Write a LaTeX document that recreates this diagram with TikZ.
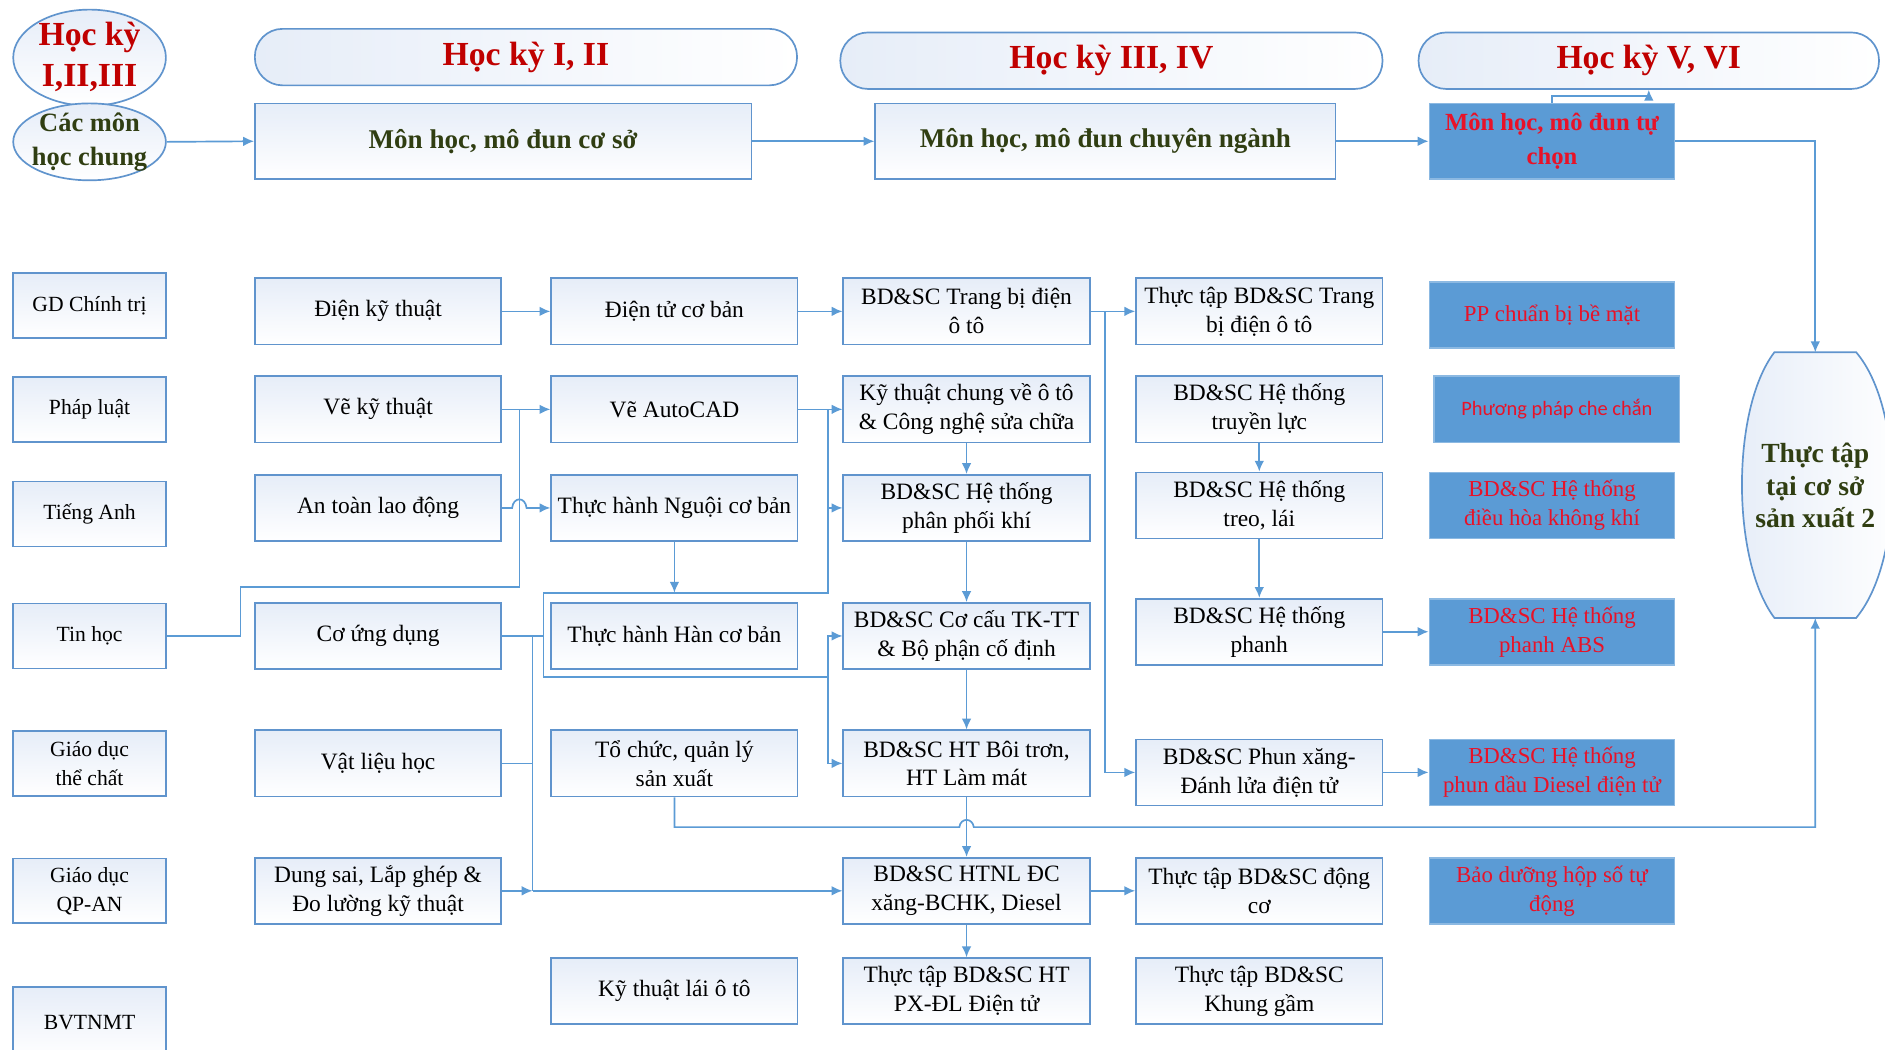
\documentclass[tikz,border=0pt]{standalone}
\usepackage{fontspec}
\setmainfont{Liberation Serif}
\newfontfamily\calibfont{Carlito}
\usetikzlibrary{shapes.geometric,arrows.meta}
\definecolor{lnblue}{RGB}{91,155,213}
\definecolor{bdblue}{RGB}{96,148,205}
\definecolor{boxtop}{RGB}{230,237,248}
\definecolor{fillblue}{RGB}{91,155,213}
\definecolor{hdred}{RGB}{192,0,0}
\definecolor{txred}{RGB}{232,18,40}
\definecolor{olivetx}{RGB}{48,62,18}
\begin{document}
\begin{tikzpicture}[x=1pt,y=-1pt,
  conn/.style={draw=lnblue, line width=1.4pt},
  arr/.style={conn, -{Latex[length=9pt,width=8pt]}},
  box/.style={draw=bdblue, line width=1.4pt, top color=boxtop, bottom color=white, align=center, inner sep=1pt, text=black, font=\fontsize{19.5}{24}\selectfont},
  cone/.style={box, minimum width=127pt, minimum height=54pt, font=\fontsize{18}{24}\selectfont},
  cwide/.style={box, minimum width=205pt, minimum height=55pt},
  bbox/.style={draw=lnblue!70!white, line width=1.4pt, fill=fillblue, align=center, text=txred, font=\fontsize{19}{24}\selectfont, minimum width=204pt, minimum height=55pt, inner sep=1pt},
  pill/.style={draw=bdblue, line width=1.4pt, rounded corners=23pt, left color=boxtop, right color=white, minimum height=47pt, text=hdred, font=\fontsize{28}{32}\selectfont\bfseries},
  topbox/.style={box, minimum height=63pt, text=olivetx, font=\fontsize{22.5}{28}\selectfont\bfseries},
  ell/.style={ellipse, draw=bdblue, line width=1.4pt, top color=boxtop, bottom color=white, minimum width=127pt, inner sep=0pt}
]
\useasboundingbox (0,0) rectangle (1568,873);
\fill[white] (0,0) rectangle (1568,873);
\clip (0,0) rectangle (1568,873);

% ---------- header row ----------
\node[ell, minimum height=80pt] (hk123) at (74.5,48) {};
\node[text=hdred, font=\fontsize{28}{34}\selectfont\bfseries, align=center] (hk123t) at (74.5,47) {Học kỳ\\I,II,III};
\node[ell, minimum height=64pt] (camon) at (74.5,118) {};
\node[text=olivetx, font=\fontsize{22}{28}\selectfont\bfseries, align=center] (camont) at (74.5,118) {Các môn\\học chung};

\node[pill, minimum width=451pt] (hk12) at (437.5,47.5) {Học kỳ I, II};
\node[pill, minimum width=451pt] (hk34) at (924.5,50.5) {Học kỳ III, IV};
\node[pill, minimum width=383pt] (hk56) at (1371.5,50.5) {Học kỳ V, VI};

\node[topbox, minimum width=413pt] (coso) at (418.5,117.5) {Môn học, mô đun cơ sở};
\node[topbox, minimum width=383pt] (cn) at (919.5,117.5) {Môn học, mô đun chuyên ngành};
\node[bbox, minimum height=63pt, font=\fontsize{20.5}{28}\selectfont\bfseries] (tc) at (1291,117.5) {Môn học, mô đun tự\\chọn};

% ---------- practice shape ----------
\draw[draw=bdblue, line width=1.4pt, left color=boxtop, right color=white]
  (1476,293) -- (1544,293) .. controls (1584,340) and (1584,466) .. (1544,514)
  -- (1476,514) .. controls (1440,466) and (1440,340) .. (1476,293) -- cycle;
\node[text=olivetx, font=\fontsize{23}{27}\selectfont\bfseries, align=center] (ttsx) at (1510,404) {Thực tập\\tại cơ sở\\sản xuất 2};
\coordinate (tttop) at (1510,293);
\coordinate (ttbot) at (1510,514);

% ---------- column 1 ----------
\node[cone] (gdct) at (74.5,254) {GD Chính trị};
\node[cone] (pl) at (74.5,340.5) {Pháp luật};
\node[cone] (ta) at (74.5,427.5) {Tiếng Anh};
\node[cone] (th) at (74.5,529) {Tin học};
\node[cone] (gdtc) at (74.5,635) {Giáo dục\\thể chất};
\node[cone] (qpan) at (74.5,741) {Giáo dục\\QP-AN};
\node[cone, minimum height=60pt] (bvt) at (74.5,851) {BVTNMT};

% ---------- column 2 ----------
\node[cwide] (dkt) at (314.5,259) {Điện kỹ thuật};
\node[cwide] (vkt) at (314.5,340.5) {Vẽ kỹ thuật};
\node[cwide] (atld) at (314.5,422.5) {An toàn lao động};
\node[cwide] (cud) at (314.5,529) {Cơ ứng dụng};
\node[cwide] (vlh) at (314.5,635) {Vật liệu học};
\node[cwide] (dslg) at (314.5,741) {Dung sai, Lắp ghép \&\\Đo lường kỹ thuật};

% ---------- column 3 ----------
\node[cwide] (dtcb) at (561,259) {Điện tử cơ bản};
\node[cwide] (acad) at (561,340.5) {Vẽ AutoCAD};
\node[cwide] (ngoi) at (561,422.5) {Thực hành Nguội cơ bản};
\node[cwide] (han) at (561,529) {Thực hành Hàn cơ bản};
\node[cwide] (tcql) at (561,635) {Tổ chức, quản lý\\sản xuất};
\node[cwide] (ktlai) at (561,824.5) {Kỹ thuật lái ô tô};

% ---------- column 4 ----------
\node[cwide] (tbd) at (804,259) {BD\&SC Trang bị điện\\ô tô};
\node[cwide] (ktc) at (804,340.5) {Kỹ thuật chung về ô tô\\\& Công nghệ sửa chữa};
\node[cwide] (ppk) at (804,422.5) {BD\&SC Hệ thống\\phân phối khí};
\node[cwide] (cctk) at (804,529) {BD\&SC Cơ cấu TK-TT\\\& Bộ phận cố định};
\node[cwide] (btron) at (804,635) {BD\&SC HT Bôi trơn,\\HT Làm mát};
\node[cwide] (htnl) at (804,741) {BD\&SC HTNL ĐC\\xăng-BCHK, Diesel};
\node[cwide] (ttpx) at (804,824.5) {Thực tập BD\&SC HT\\PX-ĐL Điện tử};

% ---------- column 5 ----------
\node[cwide] (tttbd) at (1047.5,259) {Thực tập BD\&SC Trang\\bị điện ô tô};
\node[cwide] (tl) at (1047.5,340.5) {BD\&SC Hệ thống\\truyền lực};
\node[cwide] (treo) at (1047.5,420.5) {BD\&SC Hệ thống\\treo, lái};
\node[cwide] (phanh) at (1047.5,525.5) {BD\&SC Hệ thống\\phanh};
\node[cwide] (pxang) at (1047.5,642.5) {BD\&SC Phun xăng-\\Đánh lửa điện tử};
\node[cwide] (ttdc) at (1047.5,741) {Thực tập BD\&SC động\\cơ};
\node[cwide] (ttkg) at (1047.5,824.5) {Thực tập BD\&SC\\Khung gầm};

% ---------- column 6 ----------
\node[bbox] (ppcb) at (1291,262) {PP chuẩn bị bề mặt};
\node[bbox, font=\calibfont\fontsize{17}{22}\selectfont] (ppcc) at (1295,340.5) {Phương pháp che chắn};
\node[bbox] (dhkk) at (1291,420.5) {BD\&SC Hệ thống\\điều hòa không khí};
\node[bbox] (abs) at (1291,525.5) {BD\&SC Hệ thống\\phanh ABS};
\node[bbox] (diesel) at (1291,642.5) {BD\&SC Hệ thống\\phun dầu Diesel điện tử};
\node[bbox] (hsdt) at (1291,741) {Bảo dưỡng hộp số tự\\động};

% ---------- connectors: header ----------
\draw[arr] (camon.east) -- (coso.west);
\draw[arr] (coso.east) -- (cn.west);
\draw[arr] (cn.east) -- (tc.west);
\coordinate (tcup) at (1291,80);
\draw[arr] (tc.north) -- (tcup) -| (hk56.south);
\draw[arr] (tc.east) -| (tttop);

% ---------- connectors: body ----------
\coordinate (j432) at (432,340.5);
\draw[conn] (th.east) -- (200,529) -- (200,488) -- (432,488) -- (j432);
\draw[arr] (dkt.east) -- (dtcb.west);
\draw[arr] (vkt.east) -- (acad.west);
\draw[arr] (atld.east) -- (426,422.5) .. controls (427,413) and (437,413) .. (438,422.5) -- (ngoi.west);
\draw[arr] (dtcb.east) -- (tbd.west);
\draw[arr] (tbd.east) -- (tttbd.west);
\coordinate (j919) at (919,259);
\draw[arr] (j919) |- (pxang.west);

\draw[arr] (acad.east) -- (ktc.west);
\coordinate (j689a) at (689,340.5);
\coordinate (j689b) at (689,493);
\coordinate (j689c) at (689,563);
\draw[conn] (j689a) -- (j689b) -- (452,493) -- (452,563) -- (j689c);
\draw[arr] (689,422.5) -- (ppk.west);
\draw[arr] (j689c) |- (cctk.west);
\draw[arr] (j689c) |- (btron.west);
\draw[arr] (ngoi.south) -- (561,493);
\draw[conn] (cud.east) -- (452,529);
\draw[conn] (443,529) -- (443,741);
\draw[conn] (vlh.east) -- (443,635);
\coordinate (j443) at (443,741);
\draw[arr] (dslg.east) -- (j443);
\draw[arr] (j443) -- (htnl.west);

\draw[arr] (ktc.south) -- (ppk.north);
\draw[arr] (ppk.south) -- (cctk.north);
\draw[arr] (cctk.south) -- (btron.north);
\draw[arr] (btron.south) -- (htnl.north);
\draw[arr] (htnl.south) -- (ttpx.north);
\draw[arr] (htnl.east) -- (ttdc.west);

\draw[arr] (tl.south) -- (treo.north);
\draw[arr] (treo.south) -- (phanh.north);
\draw[arr] (phanh.east) -- (abs.west);
\draw[arr] (pxang.east) -- (diesel.west);

\draw[arr] (tcql.south) -- (561,688) -- (798,688) .. controls (799,680) and (809,680) .. (810,688) -- (1510,688) -- (ttbot);
\end{tikzpicture}
\end{document}
